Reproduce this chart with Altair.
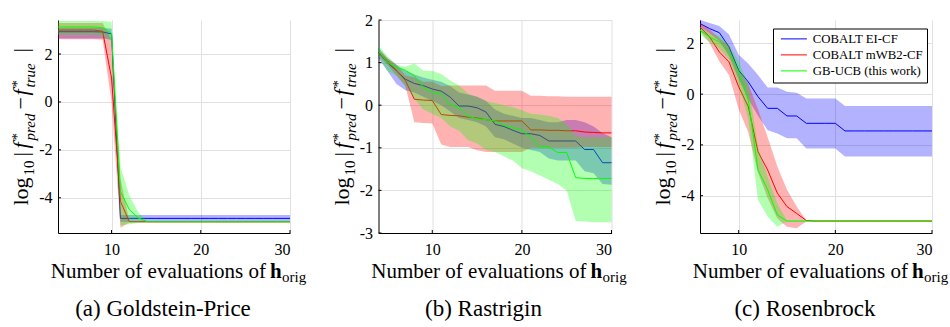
import altair as alt
import pandas as pd

FONT = "'Liberation Serif', 'Times New Roman', 'DejaVu Serif', serif"
METHODS = ["COBALT EI-CF", "COBALT mWB2-CF", "GB-UCB (this work)"]
COLORS = ["#0000ff", "#ff0000", "#00ff00"]
XTICKS = [10, 20, 30]

# ---------------- (a) Goldstein-Price ----------------
gp_x = [4, 5, 6, 7, 8, 9, 10, 11, 12, 13, 14, 15, 16, 17, 18, 19, 20, 21, 22, 23, 24, 25, 26, 27, 28, 29, 30]
gp_ei_mean = [2.93, 2.93, 2.93, 2.93, 2.93, 2.92, 2.84, -4.86, -4.86, -4.86, -4.86, -4.86, -4.86, -4.86, -4.86,
              -4.86, -4.86, -4.86, -4.86, -4.86, -4.86, -4.86, -4.86, -4.86, -4.86, -4.86, -4.86]
gp_ei_lo = [2.65, 2.65, 2.65, 2.65, 2.65, 2.65, 2.6, -5.0, -5.0, -5.0, -5.0, -5.0, -5.0, -5.0, -5.0,
            -5.0, -5.0, -5.0, -5.0, -5.0, -5.0, -5.0, -5.0, -5.0, -5.0, -5.0, -5.0]
gp_ei_hi = [3.1, 3.1, 3.1, 3.1, 3.1, 3.1, 3.05, -4.72, -4.72, -4.72, -4.72, -4.72, -4.72, -4.72, -4.72,
            -4.72, -4.72, -4.72, -4.72, -4.72, -4.72, -4.72, -4.72, -4.72, -4.72, -4.72, -4.72]
gp_wb_mean = [3.0, 3.0, 3.0, 3.0, 3.0, 2.95, 1.0, -4.15, -5.0, -5.0, -5.0, -5.0, -5.0, -5.0, -5.0,
              -5.0, -5.0, -5.0, -5.0, -5.0, -5.0, -5.0, -5.0, -5.0, -5.0, -5.0, -5.0]
gp_wb_lo = [2.62, 2.62, 2.62, 2.62, 2.62, 2.6, 0.0, -5.25, -5.03, -5.03, -5.03, -5.03, -5.03, -5.03, -5.03,
            -5.03, -5.03, -5.03, -5.03, -5.03, -5.03, -5.03, -5.03, -5.03, -5.03, -5.03, -5.03]
gp_wb_hi = [3.3, 3.3, 3.3, 3.3, 3.3, 3.3, 2.6, -3.2, -4.97, -4.97, -4.97, -4.97, -4.97, -4.97, -4.97,
            -4.97, -4.97, -4.97, -4.97, -4.97, -4.97, -4.97, -4.97, -4.97, -4.97, -4.97, -4.97]
gp_gb_mean = [3.13, 3.13, 3.13, 3.13, 3.13, 3.1, 2.86, -3.74, -4.5, -4.84, -5.0, -5.0, -5.0, -5.0, -5.0,
              -5.0, -5.0, -5.0, -5.0, -5.0, -5.0, -5.0, -5.0, -5.0, -5.0, -5.0, -5.0]
gp_gb_lo = [2.8, 2.8, 2.8, 2.8, 2.8, 2.75, 2.55, -5.15, -5.1, -5.05, -5.03, -5.03, -5.03, -5.03, -5.03,
            -5.03, -5.03, -5.03, -5.03, -5.03, -5.03, -5.03, -5.03, -5.03, -5.03, -5.03, -5.03]
gp_gb_hi = [3.38, 3.38, 3.38, 3.38, 3.38, 3.38, 3.35, -2.7, -3.9, -4.6, -4.97, -4.97, -4.97, -4.97, -4.97,
            -4.97, -4.97, -4.97, -4.97, -4.97, -4.97, -4.97, -4.97, -4.97, -4.97, -4.97, -4.97]

# ---------------- (b) Rastrigin ----------------
ra_x = [4, 5, 6, 7, 8, 9, 10, 11, 12, 13, 14, 15, 16, 17, 18, 19, 20, 21, 22, 23, 24, 25, 26, 27, 28, 29, 30]
ra_ei_mean = [1.24, 1.0, 0.81, 0.61, 0.51, 0.46, 0.38, 0.33, 0.19, -0.02, -0.02, -0.06, -0.16, -0.45, -0.5,
              -0.59, -0.67, -0.67, -0.71, -0.84, -0.84, -0.84, -0.84, -1.04, -1.04, -1.35, -1.35]
ra_ei_lo = [1.1, 0.8, 0.5, 0.35, 0.3, 0.2, 0.1, 0.0, -0.15, -0.3, -0.35, -0.4, -0.5, -0.75, -0.8,
            -0.9, -1.0, -1.05, -1.1, -1.25, -1.3, -1.3, -1.3, -1.55, -1.6, -1.85, -1.87]
ra_ei_hi = [1.35, 1.1, 0.95, 0.8, 0.72, 0.65, 0.6, 0.55, 0.45, 0.3, 0.25, 0.2, 0.1, -0.1, -0.2,
            -0.25, -0.3, -0.3, -0.35, -0.4, -0.4, -0.35, -0.35, -0.4, -0.5, -0.65, -0.75]
ra_wb_mean = [1.24, 1.04, 0.82, 0.58, 0.14, 0.12, 0.11, -0.22, -0.24, -0.25, -0.28, -0.3, -0.34, -0.37, -0.37,
              -0.37, -0.37, -0.58, -0.58, -0.59, -0.59, -0.6, -0.6, -0.63, -0.64, -0.65, -0.65]
ra_wb_lo = [1.15, 0.95, 0.7, 0.45, -0.4, -0.42, -0.43, -0.92, -0.98, -0.98, -0.98, -1.06, -1.1, -1.1, -1.1,
            -1.1, -1.1, -1.0, -1.0, -1.0, -1.0, -1.0, -1.0, -0.98, -0.98, -0.98, -0.98]
ra_wb_hi = [1.3, 1.1, 0.95, 0.7, 0.65, 0.55, 0.55, 0.45, 0.46, 0.46, 0.46, 0.46, 0.46, 0.34, 0.34,
            0.34, 0.34, 0.22, 0.22, 0.21, 0.21, 0.2, 0.2, 0.2, 0.2, 0.2, 0.2]
ra_gb_mean = [1.28, 1.0, 0.89, 0.82, 0.69, 0.42, 0.3, 0.26, 0.01, -0.05, -0.26, -0.32, -0.34, -0.37, -0.47,
              -0.53, -0.59, -0.75, -0.98, -0.98, -1.11, -1.11, -1.7, -1.72, -1.72, -1.72, -1.72]
ra_gb_lo = [1.15, 0.8, 0.7, 0.45, 0.15, -0.1, -0.2, -0.3, -0.5, -0.6, -0.82, -0.9, -1.05, -1.1, -1.2,
            -1.3, -1.48, -1.55, -1.65, -1.75, -1.85, -2.0, -2.72, -2.73, -2.75, -2.75, -2.75]
ra_gb_hi = [1.4, 1.15, 0.95, 0.9, 0.98, 0.81, 0.8, 0.73, 0.58, 0.46, 0.27, 0.2, 0.1, 0.05, 0.0,
            -0.05, -0.12, -0.2, -0.22, -0.25, -0.3, -0.45, -0.72, -0.75, -0.75, -0.75, -0.75]

# ---------------- (c) Rosenbrock ----------------
rb_x = [6, 7, 8, 9, 10, 11, 12, 13, 14, 15, 16, 17, 18, 19, 20, 21, 22, 23, 24, 25, 26, 27, 28, 29, 30]
rb_ei_mean = [2.78, 2.58, 2.42, 1.86, 0.94, 0.48, -0.1, -0.56, -0.56, -0.86, -0.86, -1.15, -1.15, -1.15, -1.15,
              -1.45, -1.45, -1.45, -1.45, -1.45, -1.45, -1.45, -1.45, -1.45, -1.45]
rb_ei_lo = [2.65, 2.4, 2.1, 1.5, 0.6, -0.2, -0.85, -1.42, -1.55, -1.74, -1.74, -2.14, -2.14, -2.14, -2.14,
            -2.46, -2.46, -2.46, -2.46, -2.46, -2.46, -2.46, -2.46, -2.46, -2.46]
rb_ei_hi = [2.92, 2.8, 2.68, 2.35, 1.55, 1.2, 0.75, 0.26, 0.26, 0.09, 0.05, -0.17, -0.17, -0.17, -0.17,
            -0.47, -0.47, -0.47, -0.47, -0.47, -0.47, -0.47, -0.47, -0.47, -0.47]
rb_wb_mean = [2.65, 2.25, 1.66, 1.27, 0.29, -0.5, -2.27, -2.99, -3.9, -4.43, -4.7, -4.98, -5.0, -5.0, -5.0,
              -5.0, -5.0, -5.0, -5.0, -5.0, -5.0, -5.0, -5.0, -5.0, -5.0]
rb_wb_lo = [2.5, 2.0, 1.3, 0.75, -0.6, -1.5, -3.1, -4.1, -4.9, -5.22, -5.28, -5.02, -5.02, -5.02, -5.02,
            -5.02, -5.02, -5.02, -5.02, -5.02, -5.02, -5.02, -5.02, -5.02, -5.02]
rb_wb_hi = [2.8, 2.55, 2.2, 1.9, 0.95, 0.4, -0.6, -1.7, -2.85, -3.77, -4.43, -4.98, -4.98, -4.98, -4.98,
            -4.98, -4.98, -4.98, -4.98, -4.98, -4.98, -4.98, -4.98, -4.98, -4.98]
rb_gb_mean = [2.52, 2.25, 2.06, 1.66, 0.88, -0.24, -2.99, -3.77, -4.76, -5.0, -5.0, -5.0, -5.0, -5.0, -5.0,
              -5.0, -5.0, -5.0, -5.0, -5.0, -5.0, -5.0, -5.0, -5.0, -5.0]
rb_gb_lo = [2.35, 2.05, 1.8, 1.35, 0.4, -1.0, -4.17, -4.82, -5.22, -5.02, -5.02, -5.02, -5.02, -5.02, -5.02,
            -5.02, -5.02, -5.02, -5.02, -5.02, -5.02, -5.02, -5.02, -5.02, -5.02]
rb_gb_hi = [2.65, 2.4, 2.3, 1.95, 1.3, 0.4, -2.07, -3.25, -4.3, -4.98, -4.98, -4.98, -4.98, -4.98, -4.98,
            -4.98, -4.98, -4.98, -4.98, -4.98, -4.98, -4.98, -4.98, -4.98, -4.98]

CAPTIONS = ["(a) Goldstein-Price", "(b) Rastrigin", "(c) Rosenbrock"]
H = 213
ONE = pd.DataFrame({"k": [0]})


def long_df(xs, triples):
    rows = []
    for m, (mean, lo, hi) in zip(METHODS, triples):
        for x, a, b, c in zip(xs, mean, lo, hi):
            rows.append({"x": x, "mean": a, "lo": b, "hi": c, "method": m})
    return pd.DataFrame(rows)


def txt(text, x, y, size, angle=0, style="normal", weight="normal", align="left"):
    return alt.Chart(ONE).mark_text(
        text=text, font=FONT, fontSize=size, fontStyle=style, fontWeight=weight,
        angle=angle, align=align, baseline="alphabetic", color="black"
    ).encode(x=alt.value(x), y=alt.value(y))


def title_layers(caption):
    L = []
    # y title: log10 |f*_pred - f*_true|  (rotated)
    L.append(txt("log", -30, 185.5, 22, angle=270))
    L.append(txt("10", -24, 155.5, 15, angle=270))
    L.append(txt("|", -30, 136.5, 22, angle=270))
    L.append(txt("f", -30, 128.5, 22, angle=270, style="italic"))
    L.append(txt("*", -36, 120.5, 15, angle=270))
    L.append(txt("pred", -23, 120.5, 15, angle=270, style="italic"))
    L.append(txt("\u2212", -30, 89.5, 22, angle=270))
    L.append(txt("f", -30, 75.5, 22, angle=270, style="italic"))
    L.append(txt("*", -36, 67.5, 15, angle=270))
    L.append(txt("true", -23, 67.5, 15, angle=270, style="italic"))
    L.append(txt("|", -30, 32.5, 22, angle=270))
    # x title: Number of evaluations of h_orig
    L.append(txt("Number of evaluations of", 208, 257.5, 21, align="right"))
    L.append(txt("h", 212, 257.5, 21, weight="bold"))
    L.append(txt("orig", 224, 261.5, 15))
    # caption
    L.append(txt(caption, 105, 295.5, 23, align="center"))
    return L


def panel(xs, triples, xdom, ydom, yvals, W, caption, legend, anchor=False):
    df = long_df(xs, triples)
    xsc = alt.Scale(domain=xdom, nice=False, zero=False)
    ysc = alt.Scale(domain=ydom, nice=False, zero=False)
    xax = alt.Axis(values=XTICKS, title=None, grid=True)
    yax = alt.Axis(values=yvals, title=None, grid=True, labelExpr="'' + datum.value")
    layers = []
    for m, c in zip(METHODS, COLORS):
        base = alt.Chart(df).transform_filter(alt.datum.method == m)
        area = base.mark_area(color=c, fillOpacity=0.3).encode(
            x=alt.X("x:Q", scale=xsc, axis=xax),
            y=alt.Y("lo:Q", scale=ysc, axis=yax),
            y2="hi:Q",
        )
        line = base.mark_line(strokeWidth=1).encode(
            x=alt.X("x:Q", scale=xsc, axis=xax),
            y=alt.Y("mean:Q", scale=ysc, axis=yax),
            stroke=alt.Stroke("method:N", scale=alt.Scale(domain=METHODS, range=COLORS),
                              legend=legend),
        )
        layers += [area, line]
    xt = alt.Chart(pd.DataFrame({"v": XTICKS})).mark_rule(color="black", strokeWidth=1).encode(
        x=alt.X("v:Q", scale=xsc, axis=xax), y=alt.value(H), y2=alt.value(H - 3))
    yt = alt.Chart(pd.DataFrame({"v": yvals})).mark_rule(color="black", strokeWidth=1).encode(
        y=alt.Y("v:Q", scale=ysc, axis=yax), x=alt.value(0), x2=alt.value(3))
    layers += [xt, yt]
    layers += title_layers(caption)
    if anchor:
        layers.append(alt.Chart(ONE).mark_rule(opacity=0).encode(
            x=alt.value(-58), x2=alt.value(-58), y=alt.value(-19.5), y2=alt.value(-19.5)))
    return alt.layer(*layers).properties(width=W, height=H)


LEG = alt.Legend(orient="none", legendX=73, legendY=8.5, title=None,
                 symbolType="M-1,0H9.4", symbolSize=25, symbolStrokeWidth=1,
                 symbolFillColor="transparent", symbolOpacity=1,
                 labelFont=FONT, labelFontSize=12.8, labelColor="black", labelOffset=23,
                 rowPadding=2, padding=4, strokeColor="black", fillColor="white",
                 cornerRadius=0)

p1 = panel(gp_x, [(gp_ei_mean, gp_ei_lo, gp_ei_hi), (gp_wb_mean, gp_wb_lo, gp_wb_hi),
                  (gp_gb_mean, gp_gb_lo, gp_gb_hi)],
           [4, 30], [-5.47, 3.42], [-4, -2, 0, 2], 232, CAPTIONS[0], None, anchor=True)
p2 = panel(ra_x, [(ra_ei_mean, ra_ei_lo, ra_ei_hi), (ra_wb_mean, ra_wb_lo, ra_wb_hi),
                  (ra_gb_mean, ra_gb_lo, ra_gb_hi)],
           [4, 30], [-3, 2], [-3, -2, -1, 0, 1, 2], 233, CAPTIONS[1], None)
p3 = panel(rb_x, [(rb_ei_mean, rb_ei_lo, rb_ei_hi), (rb_wb_mean, rb_wb_lo, rb_wb_hi),
                  (rb_gb_mean, rb_gb_lo, rb_gb_hi)],
           [6, 30], [-5.47, 2.92], [-4, -2, 0, 2], 232, CAPTIONS[2], LEG)

chart = alt.hconcat(p1, p2, p3, spacing=88.5, bounds="flush").resolve_scale(
    stroke="independent", x="independent", y="independent"
).resolve_legend(stroke="independent").properties(
    padding={"left": 0, "top": 0, "right": 0, "bottom": 0}, background="white"
).configure(font=FONT).configure_text(font=FONT).configure_view(stroke=None).configure_axis(
    labelFont=FONT, labelFontSize=16, labelColor="black", domainColor="black", domainWidth=1,
    gridColor="#e0e0e0", gridWidth=1, ticks=False, tickSize=0
).configure_axisX(labelPadding=8).configure_axisY(labelPadding=6)

chart.save("out.html", embed_options={"renderer": "svg", "actions": False})
